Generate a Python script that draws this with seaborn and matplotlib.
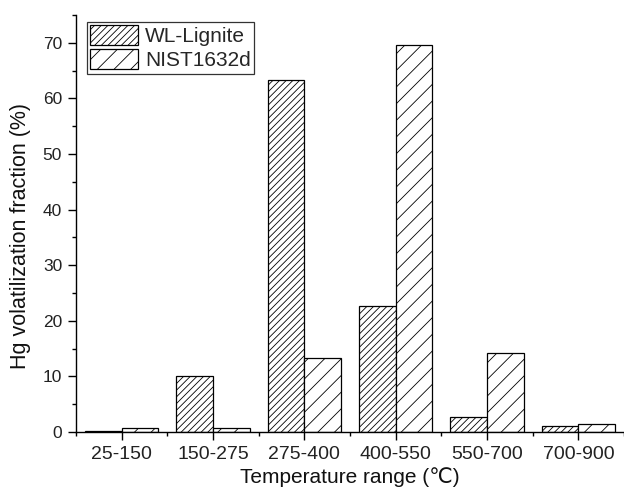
import matplotlib
matplotlib.use("Agg")
import matplotlib.pyplot as plt
from matplotlib.ticker import MultipleLocator, FixedLocator
import seaborn as sns
import pandas as pd

categories = ["25-150", "150-275", "275-400", "400-550", "550-700", "700-900"]
wl_lignite = [0.2, 10.0, 63.3, 22.7, 2.7, 1.1]
nist1632d = [0.8, 0.7, 13.3, 69.6, 14.2, 1.4]
series_names = ["WL-Lignite", "NIST1632d"]
hatches = ["/////", "//"]

df = pd.DataFrame({
    "range": categories * 2,
    "value": wl_lignite + nist1632d,
    "sample": [series_names[0]] * len(categories) + [series_names[1]] * len(categories),
})

sns.set_style("ticks")
plt.rcParams["font.family"] = ["Liberation Sans", "DejaVu Sans"]
plt.rcParams["hatch.linewidth"] = 0.6
plt.rcParams["hatch.color"] = "#333333"

fig = plt.figure(figsize=(6.24, 4.90), dpi=100)
ax = fig.add_axes([76 / 624, 58 / 490, 1 - 76 / 624, (432 - 15) / 490])

sns.barplot(data=df, x="range", y="value", hue="sample", order=categories,
            hue_order=series_names, palette=["white", "white"], width=0.8,
            edgecolor="black", linewidth=0.9, saturation=1, legend=False, ax=ax)

for cont, h in zip(ax.containers, hatches):
    for p in cont.patches:
        p.set_hatch(h)
        p.set_facecolor("white")
        p.set_edgecolor("black")

ax.set_xlim(-0.5, 5.5)
ax.set_ylim(0, 75)
ax.yaxis.set_major_locator(MultipleLocator(10))
ax.yaxis.set_minor_locator(MultipleLocator(5))
ax.xaxis.set_minor_locator(FixedLocator([i - 0.5 for i in range(len(categories) + 1)]))

for s in ["top", "right"]:
    ax.spines[s].set_visible(False)
for s in ["left", "bottom"]:
    ax.spines[s].set_linewidth(1.0)
    ax.spines[s].set_color("black")

ax.tick_params(axis="both", which="major", direction="out", length=6, width=1,
               colors="black", pad=4)
ax.tick_params(axis="x", which="major", labelsize=14, labelcolor="#222222")
ax.tick_params(axis="y", which="major", labelsize=12.5, labelcolor="#222222")
ax.tick_params(axis="both", which="minor", direction="out", length=3, width=1, colors="black")

ax.set_xlabel("Temperature range (\u2103)", fontsize=15, color="#111111", labelpad=3)
ax.set_ylabel("Hg volatilization fraction (%)", fontsize=15.5, color="#111111")
ax.yaxis.set_label_coords(-0.082, 0.47)

leg = ax.legend(ax.containers, series_names, loc="upper left",
                bbox_to_anchor=(11 / 548, 1 - 7 / 417), borderaxespad=0,
                fontsize=15, frameon=True, fancybox=False, handlelength=2.3,
                handleheight=1.1, labelspacing=0.15, borderpad=0.15,
                handletextpad=0.35)
leg.get_frame().set_edgecolor("black")
leg.get_frame().set_linewidth(0.9)

fig.savefig("out.png", dpi=100)
